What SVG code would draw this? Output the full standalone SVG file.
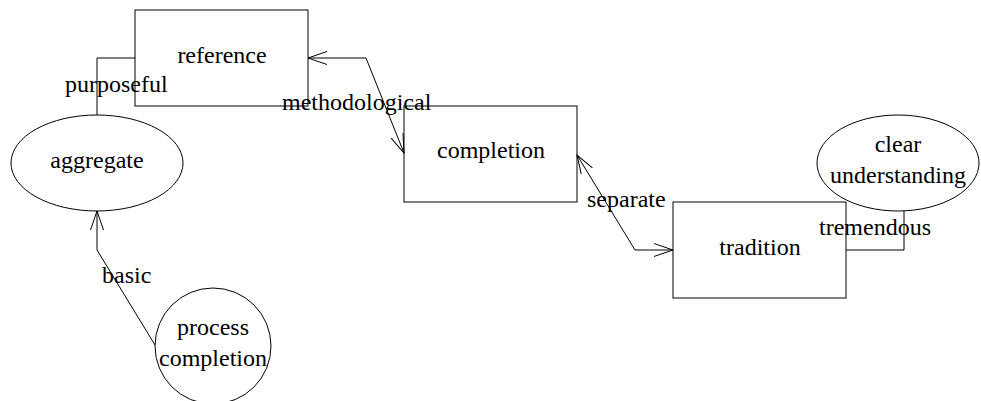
<svg xmlns="http://www.w3.org/2000/svg" width="981" height="401" viewBox="0 0 981 401">
<defs>
<style>
.n{fill:none;stroke:#000;stroke-width:1}
.e{fill:none;stroke:#000;stroke-width:1}
.t{font-family:"Liberation Serif","Times New Roman",serif;font-size:24px;fill:#000;text-anchor:middle}
.l{font-family:"Liberation Serif","Times New Roman",serif;font-size:24px;fill:#000}
</style>
<marker id="arr" viewBox="0 0 20 14" refX="19" refY="7" markerWidth="20" markerHeight="14" markerUnits="userSpaceOnUse" orient="auto-start-reverse">
<path d="M0,0.5 L19,7 L0,13.5" fill="none" stroke="#000" stroke-width="1"/>
</marker>
</defs>
<rect width="981" height="401" fill="#fff"/>
<g id="edges">
<polyline class="e" points="97,115 97,58 135,58"/>
<polyline class="e" points="308,58 366,58 404,153" marker-start="url(#arr)" marker-end="url(#arr)"/>
<polyline class="e" points="577,155 635,250 673,250" marker-start="url(#arr)" marker-end="url(#arr)"/>
<polyline class="e" points="846,250 904,250 904,211"/>
<polyline class="e" points="155,345 97,250 97,211" marker-end="url(#arr)"/>
<text class="l" x="65" y="92">purposeful</text>
<text class="l" x="282" y="110">methodological</text>
<text class="l" x="587" y="207">separate</text>
<text class="l" x="819" y="235">tremendous</text>
<text class="l" x="102" y="283">basic</text>
</g>
<g id="reference">
<rect class="n" x="135" y="10" width="173" height="96"/>
<text class="t" x="222" y="63">reference</text>
</g>
<g id="completion">
<rect class="n" x="404" y="106" width="173" height="96"/>
<text class="t" x="491" y="158">completion</text>
</g>
<g id="tradition">
<rect class="n" x="673" y="202" width="173" height="96"/>
<text class="t" x="760" y="255">tradition</text>
</g>
<g id="aggregate">
<ellipse class="n" cx="97" cy="163" rx="86" ry="48"/>
<text class="t" x="97" y="168">aggregate</text>
</g>
<g id="clear_understanding">
<ellipse class="n" cx="898" cy="163" rx="81" ry="48"/>
<text class="t" x="898" y="152">clear</text>
<text class="t" x="898" y="183">understanding</text>
</g>
<g id="process_completion">
<circle class="n" cx="213" cy="346" r="58"/>
<text class="t" x="213" y="335">process</text>
<text class="t" x="213" y="366">completion</text>
</g>
</svg>
